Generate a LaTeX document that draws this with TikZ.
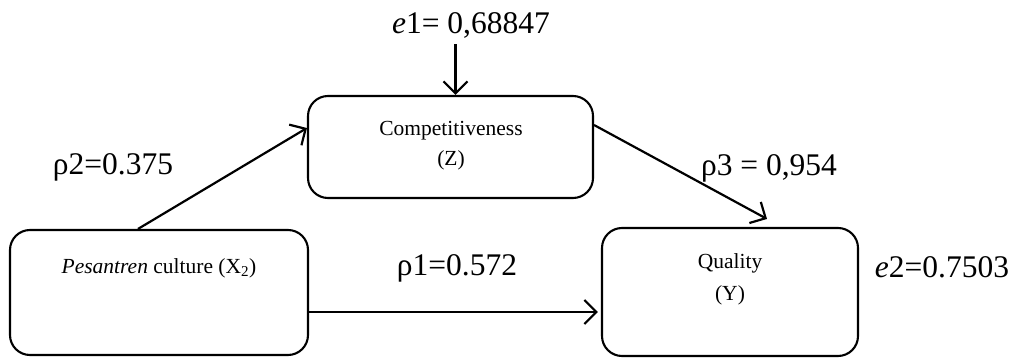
\documentclass[tikz,border=0pt]{standalone}
\usepackage{fontspec}
\setmainfont{Liberation Serif}
\usetikzlibrary{arrows.meta,positioning}

\tikzset{
  box/.style={draw, line width=2.1pt, rounded corners=20pt, inner sep=0pt},
  boxtext/.style={font=\fontsize{21.5}{25}\selectfont, align=center, inner sep=0pt},
  coef/.style={font=\fontsize{31.5}{36}\selectfont, inner sep=0pt},
  arr/.style={line width=2.2pt, -{Straight Barb[length=12pt,width=24pt,line width=2.2pt]}}
}

\begin{document}
\begin{tikzpicture}[x=1pt, y=-1pt]
  \useasboundingbox (0,0) rectangle (1016,358);
  % boxes
  \node[box, minimum width=298pt, minimum height=125pt] (culture) at (159,292.5) {};
  \node[box, minimum width=285pt, minimum height=102pt] (comp) at (450.5,147) {};
  \node[box, minimum width=256pt, minimum height=128pt] (quality) at (730,292) {};
  % box texts
  \node[boxtext] (culturetxt) at (159,268) {\textit{Pesantren} culture (X\textsubscript{2})};
  \node[boxtext] (comptxt) at (451,131) {Competitiveness};
  \node[boxtext] (compsym) at (451,160) {(Z)};
  \node[boxtext] (qualitytxt) at (730,263) {Quality};
  \node[boxtext] (qualitysym) at (730,295) {(Y)};
  % coefficients
  \node[coef] (e1) at (471,25) {\textit{e}1= 0,68847};
  \node[coef] (e2) at (942,267) {\textit{e}2=0.7503};
  \node[coef] (rho2) at (113,167) {ρ2=0.375};
  \node[coef] (rho1) at (457,268) {ρ1=0.572};
  \node[coef] (rho3) at (769,168) {ρ3 = 0,954};
  % paths
  \draw[arr] ([xshift=-21pt]culture.north) -- ([yshift=19pt]comp.west);
  \draw[arr] ([xshift=5pt,yshift=-6pt]comp.north |- e1.south) -- ([xshift=5pt]comp.north);
  \draw[arr] ([yshift=22pt]comp.east) -- ([xshift=37pt,yshift=8pt]quality.north);
  \draw[arr] ([yshift=-19.5pt]culture.east) -- ([yshift=-19.5pt,xshift=-3pt]culture.east -| quality.west);
\end{tikzpicture}
\end{document}
